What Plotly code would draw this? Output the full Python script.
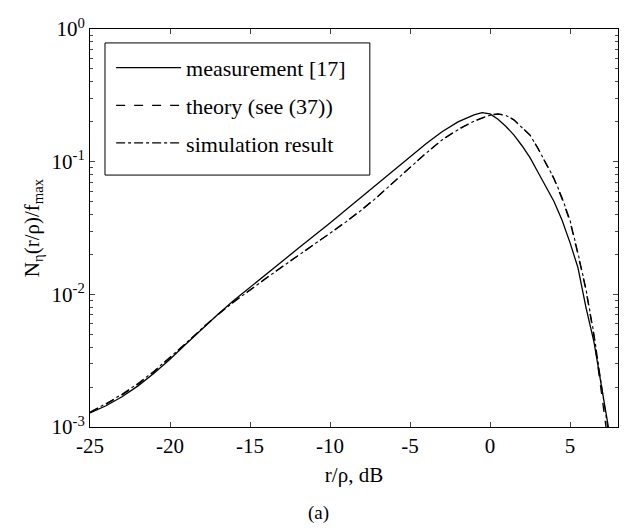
import plotly.graph_objects as go

# x in dB, values given as log10 of N/fmax
meas_x = [-25, -24, -23, -22, -21, -20, -19, -18, -17, -16, -15, -14, -13, -12, -11, -10, -9, -8, -7, -6, -5, -4, -3, -2, -1, -0.5, 0, 0.5, 1, 1.5, 2, 2.5, 3, 3.5, 4, 4.5, 5, 5.5, 6, 6.5, 7, 7.4]
meas_log = [-2.894, -2.84, -2.772, -2.69, -2.595, -2.49, -2.375, -2.26, -2.15, -2.045, -1.945, -1.85, -1.752, -1.655, -1.56, -1.462, -1.362, -1.262, -1.16, -1.06, -0.962, -0.865, -0.775, -0.70, -0.648, -0.63, -0.64, -0.68, -0.735, -0.80, -0.88, -0.97, -1.08, -1.19, -1.30, -1.44, -1.61, -1.80, -2.10, -2.36, -2.70, -3.0]

theo_x = [-25, -24, -23, -22, -21, -20, -19, -18, -17, -16, -15, -14, -13, -12, -11, -10, -9, -8, -7, -6, -5, -4, -3, -2, -1, 0, 0.5, 1, 1.5, 2, 2.5, 3, 3.5, 4, 4.5, 5, 5.5, 6, 6.5, 7, 7.25]
theo_log = [-2.890, -2.828, -2.758, -2.677, -2.583, -2.48, -2.37, -2.258, -2.152, -2.055, -1.965, -1.877, -1.792, -1.708, -1.625, -1.54, -1.452, -1.36, -1.26, -1.15, -1.04, -0.935, -0.835, -0.757, -0.693, -0.648, -0.64, -0.65, -0.685, -0.74, -0.80, -0.90, -1.02, -1.13, -1.28, -1.45, -1.70, -1.97, -2.32, -2.75, -3.0]

sim_x = [-25, -24, -23, -22, -21, -20, -19, -18, -17, -16, -15, -14, -13, -12, -11, -10, -9, -8, -7, -6, -5, -4, -3, -2, -1, 0, 0.5, 1, 1.5, 2, 2.5, 3, 3.5, 4, 4.5, 5, 5.5, 6, 6.5, 7, 7.35]
sim_log = [-2.887, -2.824, -2.753, -2.672, -2.579, -2.477, -2.368, -2.257, -2.152, -2.056, -1.966, -1.879, -1.794, -1.71, -1.627, -1.542, -1.454, -1.362, -1.262, -1.152, -1.042, -0.937, -0.837, -0.759, -0.695, -0.65, -0.642, -0.652, -0.687, -0.742, -0.80, -0.90, -1.015, -1.125, -1.27, -1.44, -1.69, -1.96, -2.30, -2.70, -3.0]

y_tickvals = [1e-3, 1e-2, 1e-1, 1]
y_ticktext = ["10<sup>-3</sup>", "10<sup>-2</sup>", "10<sup>-1</sup>", "10<sup>0</sup>"]
x_tickvals = [-25, -20, -15, -10, -5, 0, 5]
x_ticktext = ["-25", "-20", "-15", "-10", "-5", "0", "5"]

def lin(v):
    return [10 ** a for a in v]

FONT = "Liberation Serif, Times New Roman, serif"

fig = go.Figure()
fig.add_trace(go.Scatter(x=meas_x, y=lin(meas_log), mode="lines", name="measurement [17]",
                         line=dict(color="black", width=1.3, dash="solid"), legendgroup="a"))
fig.add_trace(go.Scatter(x=theo_x, y=lin(theo_log), mode="lines", name="theory (see (37))",
                         line=dict(color="black", width=1.3, dash="dash"), legendgroup="b"))
fig.add_trace(go.Scatter(x=sim_x, y=lin(sim_log), mode="lines", name="simulation result",
                         line=dict(color="black", width=1.1, dash="dashdot"), legendgroup="c"))

fig.update_layout(
    width=627, height=529,
    margin=dict(l=90, r=9, t=29, b=102, autoexpand=False),
    paper_bgcolor="white", plot_bgcolor="white",
    font=dict(family=FONT, size=21, color="black"),
    showlegend=True,
    legend=dict(x=0.04, y=0.955, xanchor="left", yanchor="top",
                borderwidth=0, bgcolor="rgba(0,0,0,0)",
                font=dict(family=FONT, size=22, color="black"),
                itemwidth=65, tracegroupgap=6, traceorder="grouped"),
    shapes=[dict(type="rect", xref="paper", yref="paper",
                 x0=0.0284, x1=0.530, y0=0.633, y1=0.965,
                 line=dict(color="black", width=1), fillcolor="white", layer="below")],
)
fig.update_xaxes(range=[-25, 8], tickvals=x_tickvals, ticktext=x_ticktext, ticks="inside", ticklen=5,
                 showline=True, linecolor="black", linewidth=1, mirror="allticks",
                 showgrid=False, zeroline=False, automargin=False,
                 title=dict(text="r/ρ, dB", font=dict(family=FONT, size=21), standoff=10))
fig.update_yaxes(type="log", range=[-3, 0], tickvals=y_tickvals, ticktext=y_ticktext,
                 ticks="inside", ticklen=5,
                 minor=dict(ticks="inside", ticklen=3, dtick="D1", showgrid=False),
                 showline=True, linecolor="black", linewidth=1, mirror="allticks",
                 showgrid=False, zeroline=False, automargin=False,
                 title=dict(text="N<sub>η</sub>(r/ρ)/f<sub>max</sub>", font=dict(family=FONT, size=21), standoff=6))
fig.add_annotation(text="(a)", x=0.432, y=-0.246, xref="paper", yref="paper",
                   showarrow=False, font=dict(family=FONT, size=19), xanchor="center", yanchor="bottom",
                   borderpad=0)

fig.write_html("out.html", config={"displayModeBar": False},
               post_script="document.body.style.margin='0';document.body.style.overflow='hidden';")
